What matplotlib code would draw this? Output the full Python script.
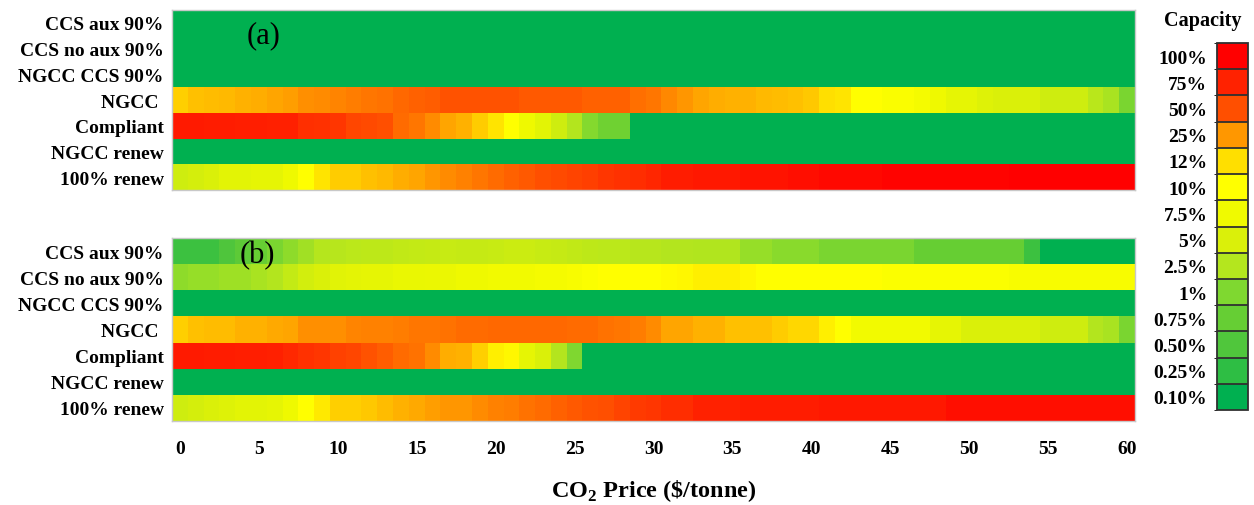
import numpy as np
import matplotlib
matplotlib.use("Agg")
import matplotlib.pyplot as plt
from matplotlib.colors import LinearSegmentedColormap, ListedColormap, BoundaryNorm, FuncNorm
from matplotlib.cm import ScalarMappable

plt.rcParams["font.family"] = ["Liberation Serif", "DejaVu Serif"]
plt.rcParams["mathtext.fontset"] = "custom"
plt.rcParams["mathtext.rm"] = "Liberation Serif:bold"
plt.rcParams["mathtext.bf"] = "Liberation Serif:bold"

# CO2 price steps ($/tonne)
prices = np.arange(0, 61)

row_labels = ["CCS aux 90%", "CCS no aux 90%", "NGCC CCS 90%", "NGCC ",
              "Compliant", "NGCC renew", "100% renew"]

# capacity share (%) of each technology at each CO2 price
a_ccs_aux = [0.1] * 61
a_ccs_noaux = [0.1] * 61
a_ngcc_ccs = [0.1] * 61
a_ngcc = [14.6, 17.2, 18.1, 18.9, 19.8, 20.7, 22.4, 23.3, 26.8, 28.6,
          30.4, 33.9, 35.7, 37.5, 41.1, 42.9, 44.6, 48, 48, 48,
          48, 48, 46, 46, 46, 46, 43, 43, 43, 39,
          36, 29, 25, 22.4, 20.7, 19.8, 19.8, 18.9, 18.1, 17.2,
          16.3, 12, 11.7, 10, 10, 9.2, 9.2, 8.3, 7.5, 6.5,
          6.5, 5.5, 5, 5, 5, 4.3, 4.3, 4.3, 2.9, 2.2,
          0.95]
a_compliant = [80, 80, 79, 79, 78, 78, 77, 76, 68, 66,
               64, 55, 52, 50, 40, 36, 28, 22, 20, 15.5,
               11.7, 10, 7.5, 6, 4.3, 2.5, 1.1, 0.85, 0.85] + [0.1] * 32
a_ngcc_renew = [0.1] * 61
a_renew = [4.3, 4.6, 5, 6, 6, 6.5, 6.5, 7.5, 10, 11.7,
           15.5, 15.5, 17.2, 18.9, 20.7, 22.4, 25, 28.6, 32.1, 35.7,
           39.3, 42.9, 46.4, 50, 52.8, 55.6, 58.3, 63.9, 66.7, 69.4,
           72.2, 78.6, 78.6, 82, 82, 82, 85.7, 85.7, 85.7, 89.3,
           89.3, 92.9, 92.9, 92.9, 92.9] + [96.4] * 8 + [100] * 8

b_ccs_aux = [0.35, 0.35, 0.35, 0.5, 0.65, 0.75, 0.95, 1.4, 2.0, 2.6,
             2.8, 3.0, 3.2, 3.2, 3.4, 3.5, 3.6, 3.8, 3.6, 3.6,
             3.8, 4.0, 4.0, 3.8, 3.6, 3.4, 3.2, 3.0, 3.0, 2.8,
             2.7, 2.5, 2.5, 2.4, 2.4, 2.4, 1.7, 1.7, 1.3, 1.3,
             1.3, 0.95, 0.95, 0.95, 0.95, 0.95, 0.95, 0.75, 0.75, 0.75,
             0.75, 0.75, 0.75, 0.75, 0.35] + [0.1] * 6
b_ccs_noaux = [1.4, 1.7, 1.7, 1.9, 1.9, 2.2, 2.5, 3.5, 4.5, 5.0,
               5.8, 6.2, 6.5, 6.5, 6.8, 6.8, 7.0, 7.0, 7.5, 7.5,
               7.8, 8.0, 8.0, 8.3, 8.5, 9.0, 9.5, 10, 10, 10,
               10, 10.3, 10.5, 11, 11, 11, 10.5, 10, 10, 10,
               10, 10, 10, 10, 10, 9.5, 9.5, 9.5, 9.5, 9.5,
               9.5, 9.5, 9.5, 9.0, 9.0, 9.0, 9.0, 9.0, 9.0, 9.0,
               9.0]
b_ngcc_ccs = [0.1] * 61
b_ngcc = [14.6, 17.2, 18.1, 18.1, 19.8, 19.8, 21.5, 22.4, 26.8, 26.8,
          27.5, 30.4, 32.1, 32.1, 33.9, 35.7, 35.7, 37.5, 39.3, 39.3,
          41, 41, 41, 41, 41, 39.3, 39.3, 37.5, 35.7, 33.9,
          28.6, 22.4, 22.4, 19.8, 19.8, 17.2, 17.2, 17.2, 15.5, 13.7,
          13.7, 11, 10, 7.8, 7.8, 7.8, 7.8, 7.8, 6.5, 6.5,
          5, 5, 5, 5, 5, 4.3, 4.3, 4.3, 2.5, 2.2,
          0.95]
b_compliant = [80, 80, 79, 79, 78, 78, 76, 72, 66.7, 64,
               58, 55, 48, 45, 40, 37.5, 28.6, 20.7, 20, 14.6,
               11, 10.5, 6.5, 5, 2.5, 1.0] + [0.1] * 35
b_ngcc_renew = [0.1] * 61
b_renew = [4.3, 4.6, 5, 5.5, 6, 6, 6.5, 7.5, 10, 11.4,
           14.6, 14.6, 16.3, 18.1, 19.8, 21.5, 23.3, 25, 25, 28.6,
           32.1, 33.9, 37.5, 39.3, 42.9, 46.4, 48.2, 50, 55.6, 61,
           63.9, 69.4, 69.4, 75, 75, 75, 78.6, 78.6, 78.6, 78.6,
           78.6] + [82] * 8 + [89.3] * 12

# colour scale
levels = [0.1, 0.25, 0.5, 0.75, 1, 2.5, 5, 7.5, 10, 12, 25, 50, 75, 100]
level_labels = ["0.10%", "0.25%", "0.50%", "0.75%", "1%", "2.5%", "5%",
                "7.5%", "10%", "12%", "25%", "50%", "75%", "100%"]
level_colors = ["#00B050", "#30BE44", "#50C63C", "#66CE34", "#80D830",
                "#B4E61E", "#DAF00A", "#F0FA00", "#FFFF00", "#FFE100",
                "#FF9600", "#FF5000", "#FF2300", "#FF0000"]

steps = np.arange(len(levels), dtype=float)
cmap = LinearSegmentedColormap.from_list(
    "capacity", list(zip(steps / steps[-1], level_colors)))
norm = FuncNorm((lambda v: np.interp(v, levels, steps),
                 lambda s: np.interp(s, steps, levels)),
                vmin=levels[0], vmax=levels[-1])

panel_a = np.array([a_ccs_aux, a_ccs_noaux, a_ngcc_ccs, a_ngcc,
                    a_compliant, a_ngcc_renew, a_renew])
panel_b = np.array([b_ccs_aux, b_ccs_noaux, b_ngcc_ccs, b_ngcc,
                    b_compliant, b_ngcc_renew, b_renew])

W, H = 1254, 506
fig = plt.figure(figsize=(W / 100, H / 100), dpi=100)

ax_a = fig.add_axes([172 / W, 1 - 191 / H, 963 / W, 180 / H])
ax_b = fig.add_axes([172 / W, 1 - 422 / H, 963 / W, 183 / H])

extent = (prices[0] - 0.5, prices[-1] + 0.5, len(row_labels) - 0.5, -0.5)
for ax, data, tag, tag_xy in [(ax_a, panel_a, "(a)", (5.3, 0.45)),
                              (ax_b, panel_b, "(b)", (4.9, 0.15))]:
    ax.imshow(data, cmap=cmap, norm=norm, aspect="auto",
              interpolation="nearest", extent=extent)
    ax.set_yticks(np.arange(len(row_labels)))
    ax.set_yticklabels(row_labels, fontsize=14, fontweight="bold")
    ax.tick_params(axis="y", length=0, pad=6)
    ax.set_xlim(extent[0], extent[1])
    for sp in ax.spines.values():
        sp.set_color("#C8C8C8")
        sp.set_linewidth(1.0)
    ax.text(tag_xy[0], tag_xy[1], tag, fontsize=22, ha="center",
            va="center", color="black")

ax_a.set_xticks([])
ax_b.set_xticks(np.arange(0, 61, 5))
ax_b.set_xticklabels([str(v) for v in range(0, 61, 5)],
                     fontsize=14, fontweight="bold")
ax_b.tick_params(axis="x", length=0, pad=14)
ax_b.set_xlabel(r"CO$_{2}$ Price (\$/tonne)", fontsize=17.5,
                fontweight="bold", labelpad=14)

# discrete legend of the capacity levels
cax = fig.add_axes([1217 / W, 1 - 411 / H, 31 / W, 367 / H])
legend_cmap = ListedColormap(cmap(steps / steps[-1]))
legend_norm = BoundaryNorm(np.arange(len(levels) + 1), len(levels))
cb = fig.colorbar(ScalarMappable(norm=legend_norm, cmap=legend_cmap),
                  cax=cax, drawedges=True, ticks=steps + 0.5)
cb.ax.yaxis.set_ticks_position("left")
cb.ax.set_yticklabels(level_labels, fontsize=14, fontweight="bold")
cb.ax.tick_params(length=0, pad=7)
cb.dividers.set_color("#303030")
cb.dividers.set_linewidth(1.3)
cb.outline.set_edgecolor("#303030")
cb.outline.set_linewidth(1.3)

fig.text(1203 / W, 1 - 21 / H, "Capacity", fontsize=14.5, fontweight="bold",
         ha="center", va="center")

fig.savefig("out.png", dpi=100)
